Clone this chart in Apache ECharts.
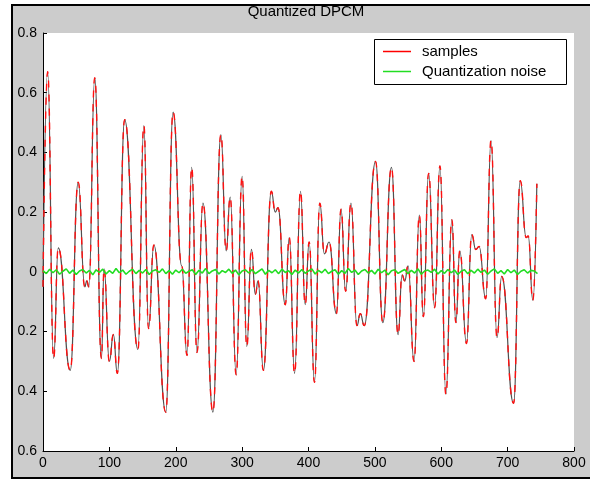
<!DOCTYPE html>
<html><head><meta charset="utf-8">
<script src="https://cdn.jsdelivr.net/npm/echarts@6/dist/echarts.min.js"></script>
<style>html,body{margin:0;padding:0;background:#fff}#c{width:590px;height:480px}</style>
</head><body><div id="c"></div>
<script>
// sample index of each turning point of the signal
const sampleX = [0,7,16,23,41,53,63,66,69,78,88,92,100,106,112,123,143,152,159,167,185,196,209,217,224,232,241,256,268,276,282,291,300,307,314,320,324,332,344,350,354,365,371,379,388,395,401,409,417,424,431,442,449,456,464,473,478,484,501,512,525,535,541,545,550,559,567,573,581,590,598,607,616,622,628,638,646,652,657,667,675,684,691,709,719,728,731,738,744];
// signal value at those points
const sampleY = [-0.05,0.67,-0.29,0.08,-0.33,0.30,-0.05,-0.03,-0.05,0.65,-0.29,0.01,-0.30,-0.21,-0.34,0.51,-0.26,0.49,-0.19,0.09,-0.47,0.535,0.02,-0.28,0.35,-0.27,0.23,-0.47,0.46,0.07,0.25,-0.345,0.32,-0.25,0.075,-0.075,-0.03,-0.33,0.27,0.20,0.215,-0.11,0.115,-0.34,0.27,-0.11,0.10,-0.37,0.23,0.06,0.10,-0.14,0.21,-0.065,0.23,-0.18,-0.14,-0.18,0.37,-0.17,0.35,-0.21,-0.01,-0.03,0.02,-0.30,0.19,-0.15,0.33,-0.12,0.355,-0.41,0.175,-0.17,0.07,-0.24,0.125,0.075,0.085,-0.09,0.44,-0.22,-0.015,-0.44,0.305,0.115,0.12,-0.095,0.295];
// quantization noise, one value every noiseStep samples
const noiseStep = 5;
const noiseY = [
0.004,-0.006,0.009,-0.003,0.007,-0.008,0.002,0.010,-0.005,0.006,
-0.009,0.003,0.008,-0.004,0.005,-0.010,0.007,-0.002,0.009,-0.007,
0.004,-0.005,0.011,-0.003,0.006,-0.008,0.002,0.009,-0.006,0.005,
-0.004,0.008,-0.009,0.003,0.007,-0.002,0.010,-0.006,0.004,-0.008,
0.006,-0.003,0.009,-0.005,0.002,0.007,-0.009,0.005,-0.004,0.011,
-0.006,0.003,0.008,-0.007,0.004,-0.002,0.009,-0.005,0.006,-0.010,
0.003,0.007,-0.004,0.008,-0.006,0.002,0.010,-0.008,0.005,-0.003,
0.007,-0.006,0.009,-0.002,0.004,-0.009,0.006,-0.004,0.008,-0.005,
0.003,0.010,-0.007,0.005,-0.003,0.009,-0.006,0.002,0.007,-0.008,
0.004,-0.005,0.011,-0.002,0.006,-0.009,0.003,0.008,-0.004,0.005,
-0.007,0.009,-0.003,0.006,-0.010,0.004,0.007,-0.005,0.002,0.008,
-0.006,0.005,-0.004,0.010,-0.008,0.003,0.006,-0.002,0.009,-0.007,
0.004,-0.005,0.008,-0.003,0.006,-0.009,0.002,0.007,-0.006,0.005,
-0.004,0.009,-0.002,0.006,-0.008,0.003,0.010,-0.005,0.004,-0.007,
0.008,-0.003,0.006,-0.009,0.002,0.007,-0.004,0.005,0.003,-0.006];
const titleText = 'Quantized DPCM';
const legendNames = ['samples', 'Quantization noise'];

const FONT = '"Liberation Sans", Arial, sans-serif';
const samples = sampleX.map((x, i) => [x, sampleY[i]]);
const noise = noiseY.map((v, i) => [i * noiseStep, v]);

const chart = echarts.init(document.getElementById('c'), null, {renderer: 'canvas'});
chart.setOption({
  animation: false,
  backgroundColor: '#fff',
  textStyle: {fontFamily: FONT},
  graphic: [
    {type: 'rect', z: -10, shape: {x: 12, y: 5, width: 600, height: 473},
     style: {fill: '#cccccc', stroke: '#000', lineWidth: 2}},
    {type: 'text', z: 5, x: 306, y: 12,
     style: {text: titleText, font: '15px ' + FONT, fill: '#000', align: 'center', verticalAlign: 'middle'}},
    {type: 'rect', z: 3, shape: {x: 374.5, y: 39.5, width: 192, height: 45},
     style: {fill: '#fff', stroke: '#000', lineWidth: 1}}
  ],
  grid: {left: 43, right: 16, top: 33, bottom: 29, show: true, backgroundColor: '#fff', borderWidth: 0},
  legend: {
    data: legendNames.map(n => ({name: n, icon: 'rect'})),
    orient: 'vertical', left: 383, top: 43, padding: 0, itemGap: 3,
    itemWidth: 28, itemHeight: 1.5, selectedMode: false, z: 6,
    textStyle: {fontSize: 15, color: '#000', lineHeight: 17, padding: [0, 0, 0, 6], fontFamily: FONT}
  },
  xAxis: {
    type: 'value', min: 0, max: 800, interval: 100,
    axisLine: {onZero: false, lineStyle: {color: '#000', width: 1}},
    axisTick: {inside: true, length: 4, lineStyle: {color: '#000'}},
    axisLabel: {color: '#000', fontSize: 14, margin: 5, fontFamily: FONT},
    splitLine: {show: false}
  },
  yAxis: {
    type: 'value', min: -0.6, max: 0.8, interval: 0.2,
    axisLine: {show: true, onZero: false, lineStyle: {color: '#000', width: 1}},
    axisTick: {show: true, inside: true, length: 4, lineStyle: {color: '#000'}},
    axisLabel: {color: '#000', fontSize: 14, margin: 6, fontFamily: FONT,
      formatter: v => String(Math.abs(Math.round(v * 10) / 10))},
    splitLine: {show: false}
  },
  series: [
    {name: 'quantized', type: 'line', data: samples, symbol: 'none', smooth: 0.5, smoothMonotone: 'x',
     itemStyle: {color: '#505050'}, lineStyle: {color: '#505050', width: 1.2}, z: 2},
    {name: legendNames[0], type: 'line', data: samples, symbol: 'none', smooth: 0.5, smoothMonotone: 'x',
     itemStyle: {color: '#ff0000'}, lineStyle: {color: '#ff1010', width: 1.4, type: [7, 7]}, z: 3},
    {name: legendNames[1], type: 'line', data: noise, symbol: 'none',
     itemStyle: {color: '#22dd22'}, lineStyle: {color: '#22dd22', width: 1.6}, z: 4}
  ]
});
</script></body></html>
